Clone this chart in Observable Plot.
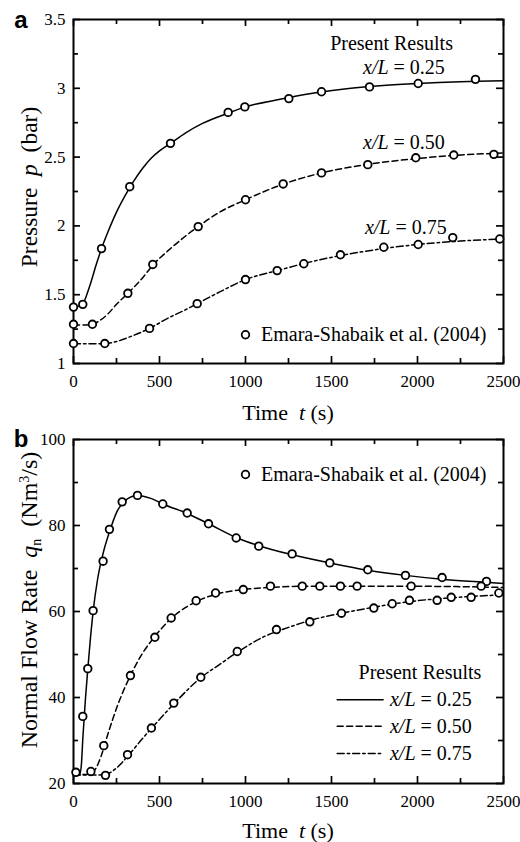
<!DOCTYPE html>
<html><head><meta charset="utf-8">
<script src="https://cdn.jsdelivr.net/npm/d3@7"></script>
<script src="https://cdn.jsdelivr.net/npm/@observablehq/plot@0.6"></script>
<style>
html,body{margin:0;padding:0;background:#fff;overflow:hidden;}
#chart svg{display:block;}
#chart svg text{font-family:'Liberation Serif','Times New Roman',Times,serif;}
#chart svg text.sans{font-family:'Liberation Sans',Arial,sans-serif;}
</style></head><body><div id="chart"></div>
<script>
// ---------- data ----------
const timeTicks = [0, 500, 1000, 1500, 2000, 2500];
const timeMinor = [250, 750, 1250, 1750, 2250];
const pTicks = [1, 1.5, 2, 2.5, 3, 3.5];
const pMinor = [1.25, 1.75, 2.25, 2.75, 3.25];
const qTicks = [20, 40, 60, 80, 100];
const qMinor = [30, 50, 70, 90];

const seriesValues = ["0.25", "0.50", "0.75"];

// Panel a: pressure (bar) — present results (curves)
const curveA25 = [[0,1.41],[40,1.42],[60,1.445],[80,1.51],[100,1.585],[130,1.71],[163,1.835],[200,1.955],[250,2.10],[300,2.22],[350,2.325],[400,2.415],[450,2.49],[500,2.545],[564,2.60],[650,2.675],[750,2.745],[900,2.82],[1000,2.865],[1200,2.92],[1400,2.965],[1600,2.998],[1800,3.02],[2000,3.035],[2250,3.048],[2500,3.055]];
const curveA50 = [[0,1.28],[60,1.28],[110,1.285],[150,1.31],[200,1.36],[250,1.43],[316,1.51],[400,1.62],[461,1.715],[550,1.82],[650,1.925],[725,1.995],[850,2.10],[1000,2.19],[1200,2.295],[1442,2.385],[1700,2.445],[2000,2.49],[2250,2.515],[2500,2.53]];
const curveA75 = [[0,1.143],[100,1.143],[182,1.145],[250,1.16],[350,1.205],[442,1.255],[550,1.33],[650,1.39],[719,1.435],[850,1.52],[1000,1.61],[1184,1.675],[1400,1.745],[1600,1.795],[1800,1.835],[2000,1.865],[2250,1.89],[2500,1.905]];
// Panel a: Emara-Shabaik et al. (2004)
const expA25 = [[0,1.41],[54,1.43],[163,1.835],[327,2.285],[564,2.60],[899,2.825],[996,2.865],[1252,2.925],[1442,2.975],[1721,3.01],[2004,3.035],[2337,3.065]];
const expA50 = [[0,1.285],[110,1.285],[316,1.51],[461,1.72],[725,1.995],[1000,2.19],[1219,2.305],[1442,2.385],[1711,2.445],[1990,2.495],[2211,2.515],[2444,2.52]];
const expA75 = [[0,1.145],[182,1.145],[442,1.255],[719,1.435],[1000,1.61],[1184,1.675],[1339,1.725],[1552,1.79],[1804,1.845],[2004,1.865],[2205,1.915],[2478,1.905]];

// Panel b: normal flow rate (Nm3/s) — present results (curves)
const curveB25 = [[0,22],[35,22],[45,24],[55,31],[70,40],[83,46.5],[100,54.5],[114,60],[140,67.5],[172,73.5],[209,78.5],[250,83],[300,85.8],[372,87],[450,86.3],[519,85.0],[661,82.8],[785,80.4],[946,77.2],[1077,75.3],[1271,73.2],[1490,71.3],[1711,69.6],[1930,68.4],[2143,67.5],[2350,66.9],[2500,66.5]];
const curveB50 = [[0,22],[100,22.2],[130,23.5],[160,26.3],[200,31.5],[250,37.5],[331,45.1],[400,50.2],[473,54.2],[568,58.4],[650,60.9],[713,62.3],[826,64],[987,65.1],[1150,65.6],[1400,65.9],[1800,65.9],[2200,65.8],[2500,65.6]];
const curveB75 = [[0,22],[150,22],[200,22.3],[250,23.6],[314,26.3],[400,30.4],[453,32.8],[583,38.5],[740,44.6],[850,47.7],[952,50.5],[1100,54],[1250,56.3],[1400,58.2],[1558,59.6],[1746,61],[1953,62.3],[2200,63.2],[2500,63.9]];
// Panel b: Emara-Shabaik et al. (2004)
const expB25 = [[14,22.6],[54,35.6],[83,46.7],[114,60.2],[172,71.7],[209,79.1],[283,85.5],[372,87.0],[519,85.0],[661,82.9],[785,80.4],[946,77.1],[1077,75.2],[1271,73.4],[1490,71.3],[1711,69.7],[1930,68.4],[2143,67.9],[2401,67.0]];
const expB50 = [[101,22.8],[176,28.8],[331,45.1],[473,54.0],[568,58.5],[713,62.5],[826,64.3],[987,65.1],[1145,65.9],[1330,65.9],[1432,65.9],[1552,65.9],[1649,65.9],[1963,65.9],[2370,65.9]];
const expB75 = [[186,21.9],[314,26.7],[453,32.9],[583,38.7],[740,44.7],[952,50.7],[1180,55.8],[1374,57.6],[1558,59.6],[1746,60.8],[1853,61.8],[1953,62.6],[2114,62.6],[2196,63.3],[2312,63.3],[2473,64.3]];

// ---------- styling ----------
const FONT = "'Liberation Serif','Times New Roman',Times,serif";
const dashes = [null, "6,3.5", "7,3,2.5,3"];
const FH = 344; // frame height in px
const FW = 430; // frame width in px

function frameTicks(xMajor, xMinor, yMajor, yMinor) {
  const M = 7, m = 5, sw = 1.7;
  return [
    Plot.tickX(xMajor, {x: d => d, insetTop: FH - M, strokeWidth: sw}),
    Plot.tickX(xMinor, {x: d => d, insetTop: FH - m, strokeWidth: sw}),
    Plot.tickX(xMajor, {x: d => d, insetBottom: FH - M, strokeWidth: sw}),
    Plot.tickX(xMinor, {x: d => d, insetBottom: FH - m, strokeWidth: sw}),
    Plot.tickY(yMajor, {y: d => d, insetRight: FW - M, strokeWidth: sw}),
    Plot.tickY(yMinor, {y: d => d, insetRight: FW - m, strokeWidth: sw}),
    Plot.tickY(yMajor, {y: d => d, insetLeft: FW - M, strokeWidth: sw}),
    Plot.tickY(yMinor, {y: d => d, insetLeft: FW - m, strokeWidth: sw})
  ];
}

function seriesMarks(curves, exps) {
  const marks = [];
  curves.forEach((c, i) => marks.push(Plot.line(c, {x: d => d[0], y: d => d[1], curve: "monotone-x", stroke: "black", strokeWidth: 1.5, strokeDasharray: dashes[i]})));
  exps.forEach(e => marks.push(Plot.dot(e, {x: d => d[0], y: d => d[1], r: 3.8, fill: "white", stroke: "black", strokeWidth: 1.8})));
  return marks;
}

function rich(svg, x, y, parts, {anchor = "middle", rotate = 0, size = 20, sans = false, weight = null} = {}) {
  const t = d3.select(svg).append("text")
    .attr("transform", `translate(${x},${y}) rotate(${rotate})`)
    .attr("text-anchor", anchor)
    .attr("font-size", size)
    .attr("fill", "black")
    .attr("style", "white-space:pre");
  if (sans) t.attr("class", "sans");
  if (weight) t.attr("font-weight", weight);
  parts.forEach(p => {
    const s = t.append("tspan").text(p.t);
    if (p.italic) s.attr("font-style", "italic");
    if (p.size) s.attr("font-size", p.size);
    if (p.dy) s.attr("dy", p.dy);
  });
  return t;
}

const commonStyle = `font-family:${FONT};font-size:17px;color:black;background:white;overflow:visible;`;

// ---------- panel a ----------
const plotA = Plot.plot({
  width: 520, height: 425,
  marginLeft: 73, marginRight: 17, marginTop: 19, marginBottom: 62,
  x: {domain: [0, 2500]},
  y: {domain: [1, 3.5]},
  style: commonStyle,
  marks: [
    Plot.axisX({ticks: timeTicks, tickSize: 0, tickPadding: 11, label: null, tickFormat: d => String(d), fontSize: 17}),
    Plot.axisY({ticks: pTicks, tickSize: 0, tickPadding: 8, label: null, tickFormat: d => String(d), fontSize: 17}),
    ...frameTicks(timeTicks, timeMinor, pTicks, pMinor),
    Plot.frame({stroke: "black", strokeWidth: 2}),
    ...seriesMarks([curveA25, curveA50, curveA75], [expA25, expA50, expA75]),
    Plot.dot([[1000, 1.209]], {x: d => d[0], y: d => d[1], r: 3.8, fill: "white", stroke: "black", strokeWidth: 1.8})
  ]
});

// ---------- panel b ----------
const legendRowsB = [39.5, 33.3, 27.0];
const plotB = Plot.plot({
  width: 520, height: 417,
  marginLeft: 73, marginRight: 17, marginTop: 14, marginBottom: 59,
  x: {domain: [0, 2500]},
  y: {domain: [20, 100]},
  style: commonStyle,
  marks: [
    Plot.axisX({ticks: timeTicks, tickSize: 0, tickPadding: 11, label: null, tickFormat: d => String(d), fontSize: 17}),
    Plot.axisY({ticks: qTicks, tickSize: 0, tickPadding: 8, label: null, tickFormat: d => String(d), fontSize: 17}),
    ...frameTicks(timeTicks, timeMinor, qTicks, qMinor),
    Plot.frame({stroke: "black", strokeWidth: 2}),
    ...seriesMarks([curveB25, curveB50, curveB75], [expB25, expB50, expB75]),
    Plot.dot([[1000, 91.86]], {x: d => d[0], y: d => d[1], r: 3.8, fill: "white", stroke: "black", strokeWidth: 1.8}),
    ...legendRowsB.map((v, i) => Plot.line([[1533, v], [1800, v]], {x: d => d[0], y: d => d[1], stroke: "black", strokeWidth: 1.5, strokeDasharray: dashes[i]}))
  ]
});

const root = document.getElementById("chart");
root.append(plotA, plotB);

// ---------- texts (panel a) ----------
{
  const xs = plotA.scale("x"), ys = plotA.scale("y");
  const X = v => xs.apply(v), Y = v => ys.apply(v);
  const c = 7; // vertical centring offset for 20px text
  rich(plotA, 21, 28, [{t: "a"}], {sans: true, weight: "bold", size: 24});
  rich(plotA, 29 + 8, 187, [{t: "Pressure  "}, {t: "p", italic: true}, {t: "  (bar)"}], {rotate: -90, size: 23.5});
  rich(plotA, 288, 412 + 8, [{t: "Time  "}, {t: "t", italic: true}, {t: " (s)"}], {size: 22});
  rich(plotA, X(1852), Y(3.326) + c, [{t: "Present Results"}]);
  seriesValues.forEach((s, i) => {
    rich(plotA, X([1924, 1924, 1935][i]), Y([3.153, 2.608, 1.99][i]) + c, [{t: "x/L", italic: true}, {t: " = " + s}]);
  });
  rich(plotA, X(1093), Y(1.209) + c, [{t: "Emara-Shabaik et al. (2004)"}], {anchor: "start"});
}
// ---------- texts (panel b) ----------
{
  const xs = plotB.scale("x"), ys = plotB.scale("y");
  const X = v => xs.apply(v), Y = v => ys.apply(v);
  const c = 7;
  const off = 425;
  rich(plotB, 21, 446.5 - off, [{t: "b"}], {sans: true, weight: "bold", size: 24});
  rich(plotB, 29 + 8, 600 - off, [
    {t: "Normal Flow Rate  "}, {t: "q", italic: true}, {t: "n", size: 14, dy: 4}, {t: "  (Nm", dy: -4}, {t: "3", size: 14, dy: -8}, {t: "/s)", dy: 8}
  ], {rotate: -90, size: 24});
  rich(plotB, 288, 830 - off + 8, [{t: "Time  "}, {t: "t", italic: true}, {t: " (s)"}], {size: 22});
  rich(plotB, X(1093), Y(91.86) + c, [{t: "Emara-Shabaik et al. (2004)"}], {anchor: "start"});
  rich(plotB, X(2017), Y(45.9) + c, [{t: "Present Results"}]);
  legendRowsB.forEach((v, i) => {
    rich(plotB, X(1843), Y(v) + c, [{t: "x/L", italic: true}, {t: " = " + seriesValues[i]}], {anchor: "start"});
  });
}
</script>
</body></html>
